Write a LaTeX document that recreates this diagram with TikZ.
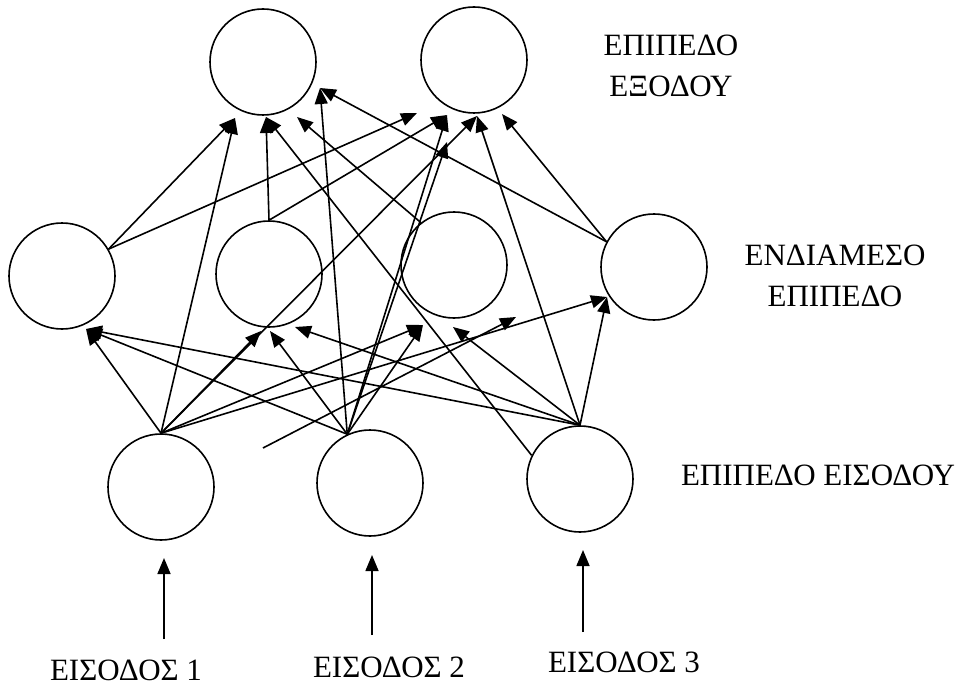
\documentclass[tikz,border=0pt]{standalone}
\usepackage{fontspec}
\setmainfont{Liberation Serif}
\usetikzlibrary{arrows.meta}
\begin{document}
\begin{tikzpicture}[x=1pt,y=-1pt,
  neuron/.style={draw, circle, line width=1.6pt, minimum size=106pt, inner sep=0pt},
  link/.style={line width=1.6pt, -{Triangle[length=16pt,width=13pt]}},
  lbl/.style={font=\fontsize{31}{41}\selectfont, align=center, inner sep=0pt}]
\useasboundingbox (0,0) rectangle (965,687);

% neurons
\node[neuron] (O1) at (263,62) {};
\node[neuron] (O2) at (474,60) {};
\node[neuron] (H1) at (62,276) {};
\node[neuron] (H2) at (269,274) {};
\node[neuron] (H3) at (454,265) {};
\node[neuron] (H4) at (654,267) {};
\node[neuron] (I1) at (161,487) {};
\node[neuron] (I2) at (370,483) {};
\node[neuron] (I3) at (580,479) {};

% arrow tips below the output layer
\coordinate (ta) at (235,118);
\coordinate (tb) at (266,117);
\coordinate (tc) at (297,117);
\coordinate (td) at (320,88);
\coordinate (te) at (417,113);
\coordinate (tf) at (447,115);
\coordinate (tg) at (477,116);
\coordinate (th) at (502,114);
\coordinate (tm) at (447,142);
% arrow tips below the hidden layer
\coordinate (tk) at (86,329);
\coordinate (tp) at (261,331);
\coordinate (tq) at (270,331);
\coordinate (tr) at (295,327);
\coordinate (ts) at (423,325);
\coordinate (tt) at (453,327);
\coordinate (tu) at (516,317);
\coordinate (tv) at (607,297);
\coordinate (stray) at (263,448);

% hidden -> output
\draw[link] (H1.30) -- (ta);
\draw[link] (H1.30) -- (te);
\draw[link] (H2.north) -- (tb);
\draw[link] (H2.north) -- (tf);
\draw[link] (H3.128) -- (tc);
\draw[link] (H4.152) -- (td);
\draw[link] (H4.152) -- (th);

% input 1
\foreach \t in {tk,ta,tp,tg,ts,tv} \draw[link] (I1.north) -- (\t);
% input 2
\foreach \t in {tk,tq,td,tf,tm,ts} \draw[link] (I2.115) -- (\t);
% input 3
\foreach \t in {tk,tr,tt,tv,tg} \draw[link] (I3.north) -- (\t);
\draw[link] (I3.154) -- (tb);
\draw[link] (stray) -- (tu);

% external inputs
\coordinate (s1) at (164,639); \coordinate (e1) at (164,558);
\coordinate (s2) at (372,635); \coordinate (e2) at (372,555);
\coordinate (s3) at (583,632); \coordinate (e3) at (583,550);
\draw[link] (s1) -- (e1);
\draw[link] (s2) -- (e2);
\draw[link] (s3) -- (e3);

% labels
\node[lbl] (outlbl) at (671,66) {ΕΠΙΠΕΔΟ\\ΕΞΟΔΟΥ};
\node[lbl] (hidlbl) at (835,276) {ΕΝΔΙΑΜΕΣΟ\\ΕΠΙΠΕΔΟ};
\node[lbl] (inlbl) at (818,475) {ΕΠΙΠΕΔΟ ΕΙΣΟΔΟΥ};
\node[lbl] (x1) at (126,670) {ΕΙΣΟΔΟΣ 1};
\node[lbl] (x2) at (389,667) {ΕΙΣΟΔΟΣ 2};
\node[lbl] (x3) at (624,662) {ΕΙΣΟΔΟΣ 3};
\end{tikzpicture}
\end{document}
